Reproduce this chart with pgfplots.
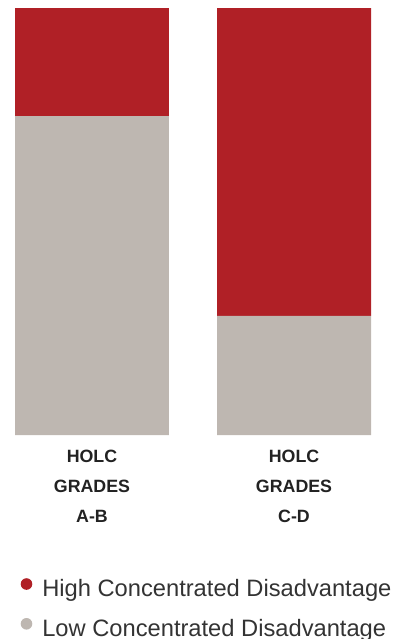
\documentclass[border=0pt]{standalone}
\usepackage{fontspec}
\setmainfont{Liberation Sans}
\usepackage{pgfplots}
\pgfplotsset{compat=1.18}
\definecolor{hcd}{HTML}{B02026}
\definecolor{lcd}{HTML}{BEB7B1}
\definecolor{txt}{HTML}{222222}
\definecolor{legtxt}{HTML}{333333}
\begin{document}
\begin{tikzpicture}
\useasboundingbox (0,0) rectangle (402pt,-639pt);
\begin{axis}[
  at={(15pt,-435pt)}, anchor=south west,
  scale only axis, width=356pt, height=427pt,
  xmin=-0.381, xmax=1.381, ymin=0, ymax=100,
  ybar stacked, bar width=154pt,
  axis line style={draw=none},
  tick style={draw=none},
  ytick=\empty,
  xtick={0,1},
  xticklabels={HOLC\\GRADES\\A-B, HOLC\\GRADES\\C-D},
  major tick length=0pt,
  xticklabel style={align=center, font=\bfseries\fontsize{17.8}{30}\selectfont, text=txt, inner sep=0pt, anchor=north, yshift=-15pt},
  reverse legend,
  legend cell align=left,
  legend style={at={(axis description cs:0,0)}, anchor=north west, xshift=5.5pt, yshift=-143pt,
    draw=none, fill=none, inner sep=0pt, row sep=16.5pt,
    font=\fontsize{23.7}{23.7}\selectfont, text=legtxt,
    nodes={inner sep=0pt, text height=17pt, text depth=5pt},
    /tikz/every odd column/.append style={column sep=10pt}},
]
\addplot[fill=lcd, draw=none, legend image code/.code={\fill[lcd] (5.5pt,6.5pt) circle (5.8pt);}] coordinates {(0,74.7) (1,27.9)};
\addlegendentry{Low Concentrated Disadvantage}
\addplot[fill=hcd, draw=none, legend image code/.code={\fill[hcd] (5.5pt,6.5pt) circle (5.8pt);}] coordinates {(0,25.3) (1,72.1)};
\addlegendentry{High Concentrated Disadvantage}
\end{axis}
\end{tikzpicture}
\end{document}
